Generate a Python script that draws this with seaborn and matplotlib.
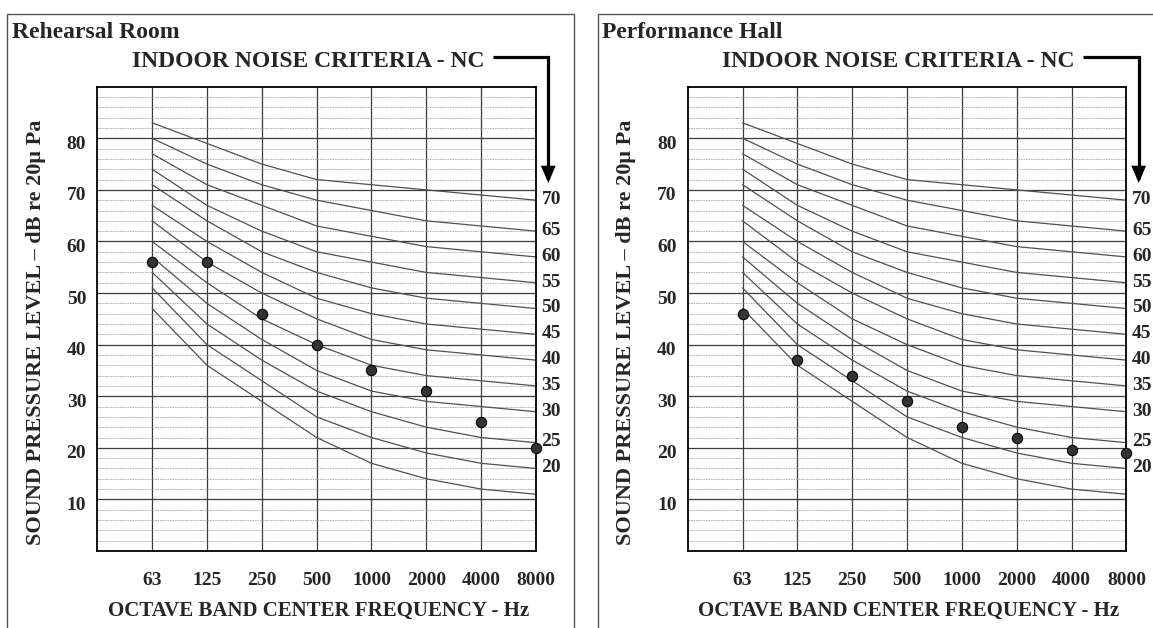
import numpy as np
import pandas as pd
import matplotlib
matplotlib.use("Agg")
import matplotlib.pyplot as plt
import matplotlib.transforms as mtransforms
from matplotlib.patches import Rectangle, FancyArrowPatch
from matplotlib.path import Path
from matplotlib.ticker import MultipleLocator, FixedLocator
import seaborn as sns

# Octave band centre frequencies (Hz)
freq_labels = ["63", "125", "250", "500", "1000", "2000", "4000", "8000"]

# Noise Criteria curves, band levels in dB
nc_15 = [47, 36, 29, 22, 17, 14, 12, 11]
nc_20 = [51, 40, 33, 26, 22, 19, 17, 16]
nc_25 = [54, 44, 37, 31, 27, 24, 22, 21]
nc_30 = [57, 48, 41, 35, 31, 29, 28, 27]
nc_35 = [60, 52, 45, 40, 36, 34, 33, 32]
nc_40 = [64, 56, 50, 45, 41, 39, 38, 37]
nc_45 = [67, 60, 54, 49, 46, 44, 43, 42]
nc_50 = [71, 64, 58, 54, 51, 49, 48, 47]
nc_55 = [74, 67, 62, 58, 56, 54, 53, 52]
nc_60 = [77, 71, 67, 63, 61, 59, 58, 57]
nc_65 = [80, 75, 71, 68, 66, 64, 63, 62]
nc_70 = [83, 79, 75, 72, 71, 70, 69, 68]
nc_ratings = [15, 20, 25, 30, 35, 40, 45, 50, 55, 60, 65, 70]
nc_levels = [nc_15, nc_20, nc_25, nc_30, nc_35, nc_40,
             nc_45, nc_50, nc_55, nc_60, nc_65, nc_70]
nc_labelled = [20, 25, 30, 35, 40, 45, 50, 55, 60, 65, 70]

# Measured octave band levels (dB)
rehearsal_room = [56, 56, 46, 40, 35, 31, 25, 20]
performance_hall = [46, 37, 34, 29, 24, 22, 19.5, 19]

panel_titles = ["Rehearsal Room", "Performance Hall"]
y_ticks = [10, 20, 30, 40, 50, 60, 70, 80]

# Long-form tables for seaborn
positions = np.arange(1, len(freq_labels) + 1)
curves = pd.DataFrame(
    [{"nc": r, "pos": p, "level": v}
     for r, lv in zip(nc_ratings, nc_levels) for p, v in zip(positions, lv)]
)

sns.set_style("white")
plt.rcParams["font.family"] = ["Liberation Serif", "DejaVu Serif"]
plt.rcParams["font.weight"] = "bold"

W, H = 1153, 628
fig = plt.figure(figsize=(W / 100, H / 100), dpi=100)


def fx(x):
    return x / W


def fy(y):
    return (H - y) / H


def draw_panel(dx, title, levels):
    # outer frame of the panel
    fig.add_artist(Rectangle((fx(7.3 + dx), fy(640)), fx(567), (640 - 14.3) / H,
                             transform=fig.transFigure, fill=False,
                             edgecolor="#555555", lw=1.0))
    ax = fig.add_axes([fx(97.3 + dx), fy(551), fx(438.7), 464.3 / H])

    # minor / major horizontal grid and vertical frequency lines
    ax.set_xlim(0, 8)
    ax.set_ylim(0, 90)
    ax.xaxis.set_major_locator(FixedLocator(positions))
    ax.set_xticklabels(freq_labels)
    ax.yaxis.set_major_locator(FixedLocator(y_ticks))
    ax.yaxis.set_minor_locator(MultipleLocator(2))
    ax.grid(which="minor", axis="y", color="#a8a8a8", lw=0.6, ls=(0, (2, 1)))
    ax.grid(which="major", axis="y", color="#3c3c3c", lw=0.9)
    ax.grid(which="major", axis="x", color="#3c3c3c", lw=0.9)
    ax.set_axisbelow(True)

    sns.lineplot(data=curves, x="pos", y="level", units="nc", estimator=None,
                 color="#505050", lw=0.9, ax=ax, legend=False)

    pts = pd.DataFrame({"pos": positions, "level": levels})
    sns.scatterplot(data=pts, x="pos", y="level", s=55, color="#333333",
                    edgecolor="black", linewidth=0.8, ax=ax, zorder=6,
                    clip_on=False, legend=False)

    # NC rating labels at the right-hand end of each curve
    for r, lv in zip(nc_ratings, nc_levels):
        if r in nc_labelled:
            ax.annotate(str(r), xy=(positions[-1], lv[-1]), xytext=(4, 0.5),
                        textcoords="offset points", ha="left", va="center",
                        fontsize=14, fontweight="bold", annotation_clip=False)

    for s in ax.spines.values():
        s.set_color("black")
        s.set_linewidth(1.3)

    ax.tick_params(axis="both", which="both", length=0)
    ax.tick_params(axis="x", pad=15, labelsize=14)
    ax.tick_params(axis="y", pad=8, labelsize=14)
    shift = mtransforms.ScaledTranslation(0, -4 / 100, fig.dpi_scale_trans)
    for lab in ax.get_yticklabels():
        lab.set_transform(lab.get_transform() + shift)
        lab.set_fontweight("bold")
    for lab in ax.get_xticklabels():
        lab.set_fontweight("bold")

    ax.set_xlabel("OCTAVE BAND CENTER FREQUENCY - Hz", fontsize=15,
                  fontweight="bold", va="center")
    ax.xaxis.set_label_coords(0.5 + 2 / 438.7, (551 - 611) / 464.3)
    ax.set_ylabel("SOUND PRESSURE LEVEL \u2013 dB re 20\u03bc Pa", fontsize=16,
                  fontweight="bold", va="center")
    ax.yaxis.set_label_coords((36 - 97.3) / 438.7, (551 - 332) / 464.3)

    fig.text(fx(12 + dx), fy(32), title, fontsize=17, fontweight="bold",
             ha="left", va="center")
    fig.text(fx(308 + dx), fy(61.5), "INDOOR NOISE CRITERIA - NC",
             fontsize=17, fontweight="bold", ha="center", va="center")

    arrow_path = Path([(fx(493 + dx), fy(57.3)), (fx(548.3 + dx), fy(57.3)),
                       (fx(548.3 + dx), fy(183))])
    fig.add_artist(FancyArrowPatch(path=arrow_path, transform=fig.transFigure,
                                   arrowstyle="-|>,head_length=0.42,head_width=0.18",
                                   mutation_scale=20, lw=2.3, color="black",
                                   joinstyle="miter", capstyle="butt"))
    return ax


draw_panel(0, panel_titles[0], rehearsal_room)
draw_panel(590.4, panel_titles[1], performance_hall)

fig.savefig("out.png", dpi=100, facecolor="white")
